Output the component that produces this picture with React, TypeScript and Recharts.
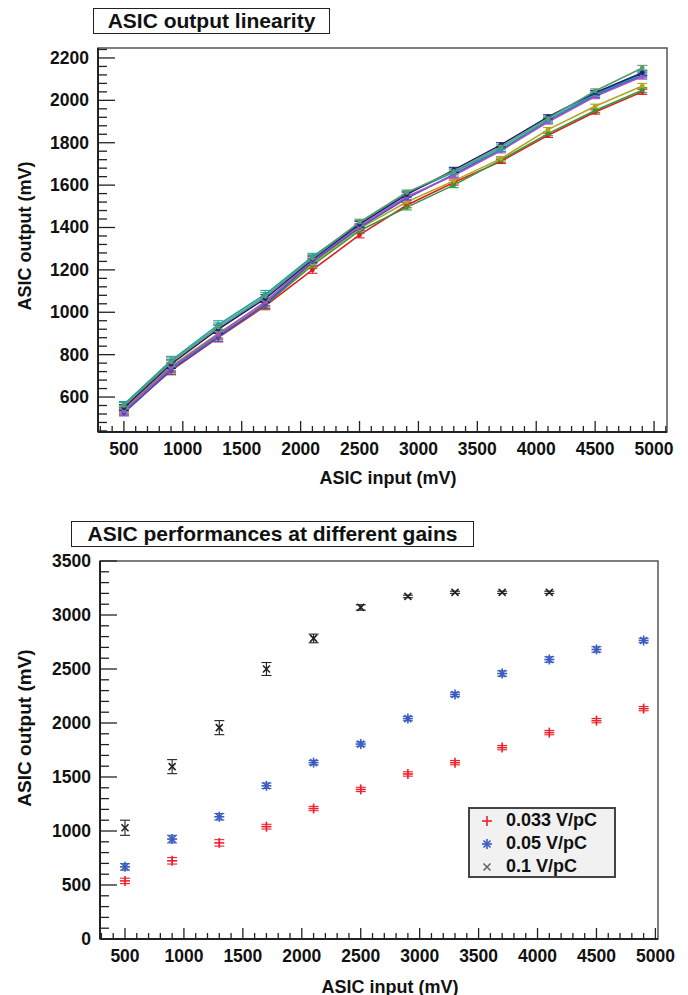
import {
  ComposedChart,
  ScatterChart,
  Line,
  Scatter,
  XAxis,
  YAxis,
  ErrorBar,
  ReferenceArea,
  Legend,
} from "recharts";

const font = '"Liberation Sans", Arial, sans-serif';
const ink = "#111";

// injected charge, same for both plots
const inputs = [500, 900, 1300, 1700, 2100, 2500, 2900, 3300, 3700, 4100, 4500, 4900];

// top plot: one curve per channel
const chRed = [530, 725, 880, 1030, 1200, 1365, 1505, 1612, 1712, 1835, 1945, 2040];
const chGreen = [540, 735, 890, 1035, 1222, 1385, 1495, 1600, 1718, 1843, 1952, 2048];
const chOlive = [545, 745, 900, 1045, 1230, 1395, 1520, 1620, 1725, 1862, 1972, 2068];
const chBlue = [525, 728, 883, 1038, 1238, 1400, 1538, 1650, 1768, 1903, 2024, 2118];
const chPurple = [535, 740, 895, 1050, 1245, 1405, 1545, 1645, 1762, 1898, 2018, 2112];
const chTeal = [565, 772, 940, 1085, 1262, 1420, 1560, 1660, 1770, 1908, 2030, 2125];
const chNavy = [550, 755, 920, 1065, 1250, 1415, 1555, 1672, 1790, 1922, 2036, 2130];
const chSea = [560, 765, 930, 1075, 1255, 1425, 1565, 1665, 1780, 1915, 2044, 2153];
const chErr = [14, 20, 20, 18, 16, 14, 12, 12, 10, 10, 10, 12];

// bottom plot: three gains
const gain033 = [538, 724, 890, 1040, 1208, 1385, 1528, 1633, 1772, 1911, 2022, 2133];
const gain05 = [668, 925, 1132, 1419, 1633, 1805, 2041, 2264, 2458, 2588, 2681, 2764];
const gain1 = [1030, 1596, 1957, 2500, 2783, 3070, 3172, 3210, 3210, 3210];
const err033 = [25, 30, 30, 22, 20, 20, 20, 20, 20, 20, 20, 20];
const err05 = [30, 35, 30, 25, 20, 20, 20, 20, 25, 25, 25, 20];
const err1 = [70, 65, 65, 60, 40, 25, 12, 10, 10, 10];

const channels = [
  { key: "red", values: chRed, color: "#e41c22" },
  { key: "green", values: chGreen, color: "#2e9a3c" },
  { key: "olive", values: chOlive, color: "#b3a420" },
  { key: "blue", values: chBlue, color: "#3c50c8" },
  { key: "purple", values: chPurple, color: "#a552c8" },
  { key: "teal", values: chTeal, color: "#1aa5aa" },
  { key: "navy", values: chNavy, color: "#1c2370" },
  { key: "sea", values: chSea, color: "#5a9a70" },
];

const linRows = inputs.map((x, i) => {
  const row: Record<string, number> = { x, err: chErr[i] };
  channels.forEach((c) => (row[c.key] = c.values[i]));
  return row;
});

const pts = (ys: number[], errs: number[]) =>
  ys.map((y, i) => ({ x: inputs[i], y, err: errs[i] }));

const range = (a: number, b: number, step: number) => {
  const out: number[] = [];
  for (let v = a; v <= b; v += step) out.push(v);
  return out;
};

const xTicksTop = range(300, 5100, 100);
const yTicksTop = range(440, 2240, 40);
const xTicksBot = range(300, 5000, 100);
const yTicksBot = range(0, 3500, 100);

const tickText = {
  fontFamily: font,
  fontWeight: 700,
  fontSize: 17.5,
  fill: ink,
};

const xTick = (step: number) => (props: any) => {
  const { x, y, payload } = props;
  const major = payload.value % step === 0;
  return (
    <g>
      <line x1={x} y1={y} x2={x} y2={y - (major ? 11 : 6)} stroke="#222" strokeWidth={1.3} />
      {major && (
        <text x={x} y={y + 17} textAnchor="middle" dominantBaseline="central" {...tickText}>
          {payload.value}
        </text>
      )}
    </g>
  );
};

const yTick = (step: number) => (props: any) => {
  const { x, y, payload } = props;
  const major = payload.value % step === 0;
  return (
    <g>
      <line x1={x} y1={y} x2={x + (major ? 17 : 9)} y2={y} stroke="#222" strokeWidth={1.3} />
      {major && (
        <text x={x - 9} y={y} textAnchor="end" dominantBaseline="central" {...tickText}>
          {payload.value}
        </text>
      )}
    </g>
  );
};

const plusMark = (color: string) => (props: any) => {
  const { cx, cy } = props;
  return (
    <g stroke={color} strokeWidth={1.6}>
      <line x1={cx - 5} y1={cy} x2={cx + 5} y2={cy} />
      <line x1={cx} y1={cy - 5} x2={cx} y2={cy + 5} />
    </g>
  );
};

const starMark = (color: string) => (props: any) => {
  const { cx, cy } = props;
  return (
    <g stroke={color} strokeWidth={1.6}>
      <line x1={cx - 5} y1={cy} x2={cx + 5} y2={cy} />
      <line x1={cx} y1={cy - 5} x2={cx} y2={cy + 5} />
      <line x1={cx - 3.5} y1={cy - 3.5} x2={cx + 3.5} y2={cy + 3.5} />
      <line x1={cx - 3.5} y1={cy + 3.5} x2={cx + 3.5} y2={cy - 3.5} />
    </g>
  );
};

const crossMark = (color: string) => (props: any) => {
  const { cx, cy } = props;
  return (
    <g stroke={color} strokeWidth={1.6}>
      <line x1={cx - 3.5} y1={cy - 3.5} x2={cx + 3.5} y2={cy + 3.5} />
      <line x1={cx - 3.5} y1={cy + 3.5} x2={cx + 3.5} y2={cy - 3.5} />
    </g>
  );
};

const gains = [
  { name: "0.033 V/pC", data: pts(gain033, err033), color: "#f0202a", mark: plusMark },
  { name: "0.05 V/pC", data: pts(gain05, err05), color: "#3b5cc0", mark: starMark },
  { name: "0.1 V/pC", data: pts(gain1, err1), color: "#222", mark: crossMark },
];

const legendSymbolColor = ["#f0202a", "#3b5cc0", "#666"];

function GainLegend() {
  return (
    <div
      style={{
        width: 148,
        height: 71,
        boxSizing: "border-box",
        border: "2px solid #444",
        background: "#f1f1f1",
        fontFamily: font,
        fontWeight: 700,
        fontSize: 18,
        color: ink,
        paddingTop: 0,
      }}
    >
      {gains.map((g, i) => (
        <div key={g.name} style={{ display: "flex", alignItems: "center", height: 23 }}>
          <svg width={36} height={20}>
            {(i === 0 ? plusMark : i === 1 ? starMark : crossMark)(legendSymbolColor[i])({ cx: 17, cy: 10 })}
          </svg>
          <span>{g.name}</span>
        </div>
      ))}
    </div>
  );
}

const boxTitle = (left: number, top: number, width: number, text: string) => (
  <div
    style={{
      position: "absolute",
      left,
      top,
      width,
      height: 26,
      boxSizing: "border-box",
      border: "1.5px solid #222",
      background: "#fff",
      fontFamily: font,
      fontWeight: 700,
      fontSize: 21,
      color: ink,
      textAlign: "center",
      lineHeight: "23px",
    }}
  >
    {text}
  </div>
);

const axisTitle = (cx: number, cy: number, text: string, size: number, rotate = false) => (
  <div
    style={{
      position: "absolute",
      left: cx,
      top: cy,
      transform: `translate(-50%, -50%)${rotate ? " rotate(-90deg)" : ""}`,
      whiteSpace: "nowrap",
      fontFamily: font,
      fontWeight: 700,
      fontSize: size,
      color: ink,
    }}
  >
    {text}
  </div>
);

export default function App() {
  const topX: [number, number] = [280, 5110];
  const topY: [number, number] = [435, 2247];
  const botX: [number, number] = [288, 5022];
  const botY: [number, number] = [0, 3500];

  return (
    <div style={{ position: "absolute", left: 0, top: 0, width: 688, height: 995, background: "#fff" }}>
      <div style={{ position: "absolute", left: 0, top: 0 }}>
        <ComposedChart width={688} height={500} data={linRows} margin={{ top: 48, right: 21, left: 0, bottom: 0 }}>
          <ReferenceArea x1={topX[0]} x2={topX[1]} y1={topY[0]} y2={topY[1]} fill="none" stroke="#555" strokeWidth={1.5} />
          <XAxis
            type="number"
            dataKey="x"
            domain={topX}
            allowDataOverflow
            ticks={xTicksTop}
            interval={0}
            height={68}
            tickSize={0}
            tickMargin={0}
            tick={xTick(500)}
            axisLine={{ stroke: "#222", strokeWidth: 2 }}
          />
          <YAxis
            type="number"
            domain={topY}
            allowDataOverflow
            ticks={yTicksTop}
            interval={0}
            width={98}
            tickSize={0}
            tickMargin={0}
            tick={yTick(200)}
            axisLine={{ stroke: "#222", strokeWidth: 2 }}
          />
          {channels.map((c) => (
            <Line
              key={c.key}
              dataKey={c.key}
              type="linear"
              stroke={c.color}
              strokeWidth={1.6}
              dot={{ r: 1.6, fill: c.color, stroke: c.color }}
              isAnimationActive={false}
            >
              <ErrorBar dataKey="err" width={5} stroke={c.color} strokeWidth={1.1} direction="y" />
            </Line>
          ))}
        </ComposedChart>
      </div>

      <div style={{ position: "absolute", left: 0, top: 500 }}>
        <ScatterChart width={688} height={495} margin={{ top: 61, right: 30, left: 0, bottom: 0 }}>
          <ReferenceArea x1={botX[0]} x2={botX[1]} y1={botY[0]} y2={botY[1]} fill="none" stroke="#555" strokeWidth={1.5} />
          <XAxis
            type="number"
            dataKey="x"
            domain={botX}
            allowDataOverflow
            ticks={xTicksBot}
            interval={0}
            height={56}
            tickSize={0}
            tickMargin={0}
            tick={xTick(500)}
            axisLine={{ stroke: "#222", strokeWidth: 2 }}
          />
          <YAxis
            type="number"
            dataKey="y"
            domain={botY}
            allowDataOverflow
            ticks={yTicksBot}
            interval={0}
            width={100}
            tickSize={0}
            tickMargin={0}
            tick={yTick(500)}
            axisLine={{ stroke: "#222", strokeWidth: 2 }}
          />
          {gains.map((g) => (
            <Scatter key={g.name} name={g.name} data={g.data} shape={g.mark(g.color)} isAnimationActive={false}>
              <ErrorBar dataKey="err" width={5} stroke={g.color} strokeWidth={1.1} direction="y" />
            </Scatter>
          ))}
          <Legend
            layout="vertical"
            align="center"
            verticalAlign="middle"
            content={() => <GainLegend />}
            wrapperStyle={{ position: "absolute", left: 468, top: 307, width: 148, height: 71, margin: 0 }}
          />
        </ScatterChart>
      </div>

      {boxTitle(93, 8, 237, "ASIC output linearity")}
      {boxTitle(71, 521, 403, "ASIC performances at different gains")}
      {axisTitle(388, 478, "ASIC input (mV)", 18)}
      {axisTitle(390, 987, "ASIC input (mV)", 18)}
      {axisTitle(25, 236, "ASIC output (mV)", 18, true)}
      {axisTitle(25, 728, "ASIC output (mV)", 19, true)}
    </div>
  );
}
